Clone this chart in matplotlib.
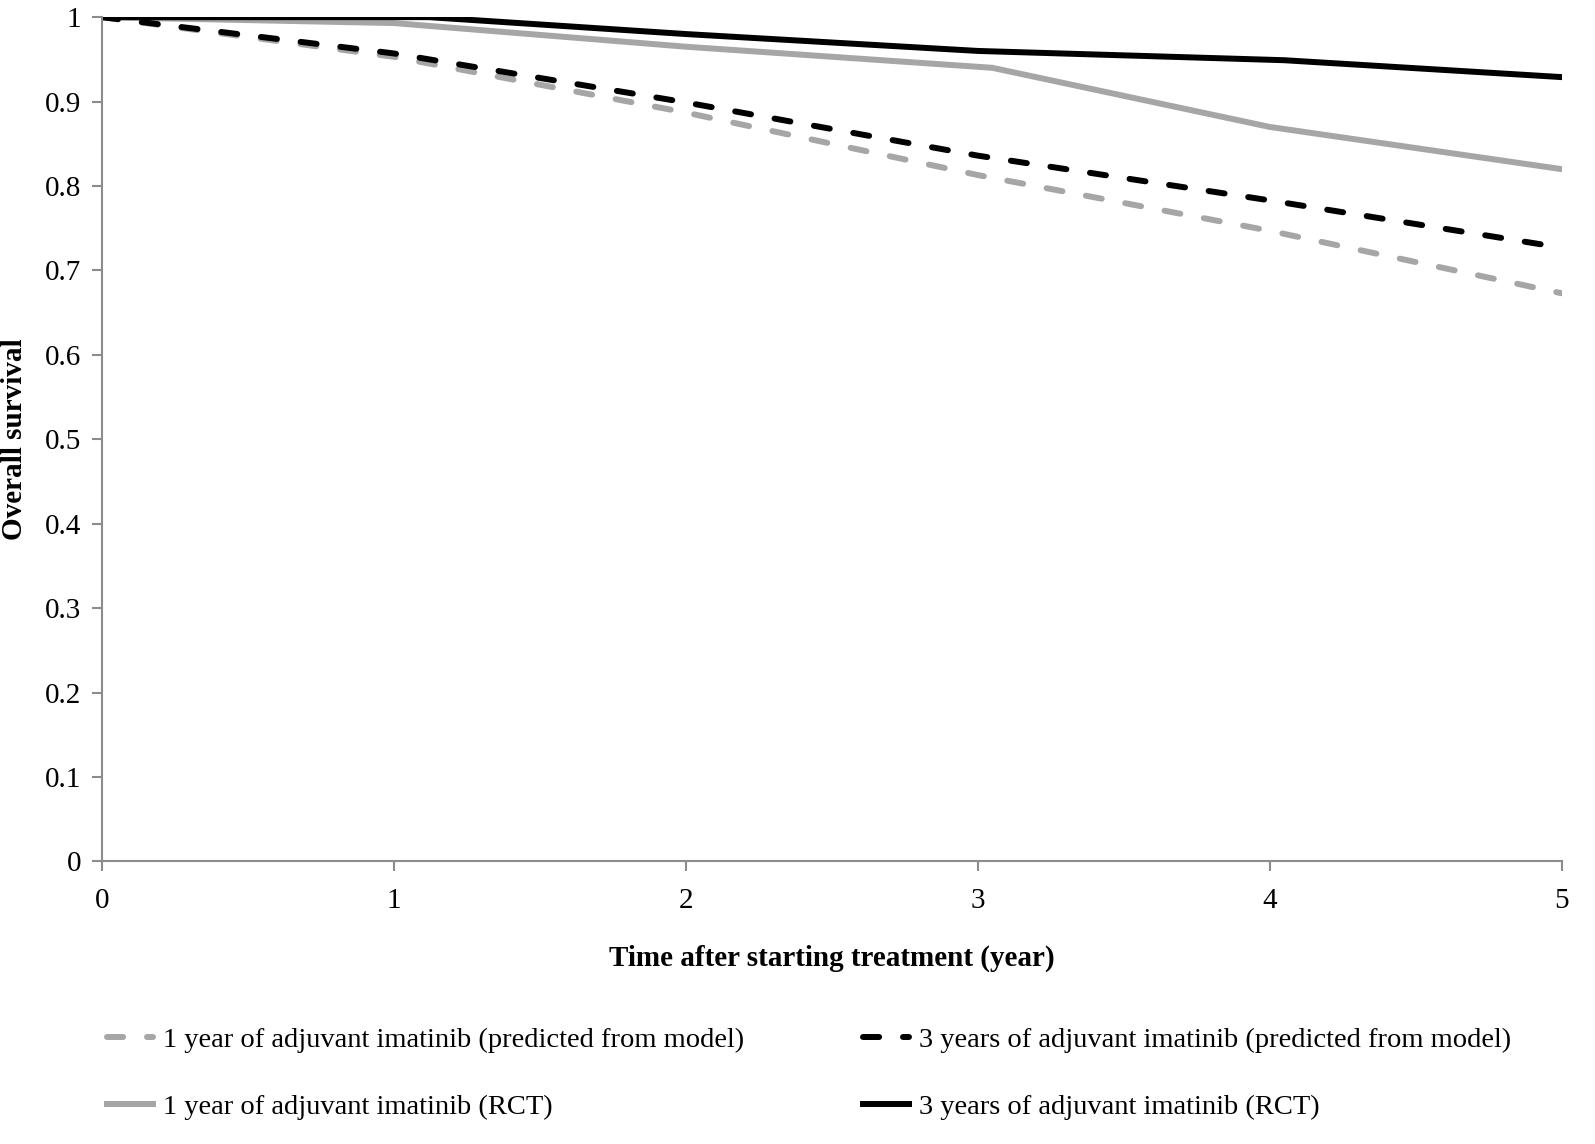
import matplotlib.pyplot as plt
from matplotlib.ticker import FuncFormatter

plt.rcParams['font.family'] = ['Liberation Serif', 'DejaVu Serif']

# years after starting treatment
years = [0, 1, 2, 3, 4, 5]
pred_1yr = [1.0, 0.953, 0.887, 0.813, 0.747, 0.673]
pred_3yr = [1.0, 0.957, 0.899, 0.836, 0.783, 0.727]

rct_1yr_x = [0, 1, 2, 3.05, 4, 5]
rct_1yr = [1.0, 0.993, 0.965, 0.94, 0.87, 0.82]
rct_3yr_x = [0, 1, 1.12, 2, 3, 4.05, 5]
rct_3yr = [1.0, 1.0, 1.0, 0.98, 0.96, 0.949, 0.929]

labels = ["1 year of adjuvant imatinib (predicted from model)",
          "1 year of adjuvant imatinib (RCT)",
          "3 years of adjuvant imatinib (predicted from model)",
          "3 years of adjuvant imatinib (RCT)"]

gray = '#a6a6a6'
fig = plt.figure(figsize=(15.95, 11.44), dpi=100)
ax = fig.add_axes([0.064, 0.247, 0.915, 0.738])

dash = (2.7, 4.0)
h1, = ax.plot(years, pred_1yr, color=gray, lw=4.3, ls=(0, dash), dash_capstyle='round')
h2, = ax.plot(rct_1yr_x, rct_1yr, color=gray, lw=4.3)
h3, = ax.plot(years, pred_3yr, color='black', lw=4.3, ls=(0, dash), dash_capstyle='round')
h4, = ax.plot(rct_3yr_x, rct_3yr, color='black', lw=4.3)

ax.set_xlim(0, 5)
ax.set_ylim(0, 1)
ax.set_xticks(range(6))
ax.set_yticks([i / 10 for i in range(11)])
ax.yaxis.set_major_formatter(FuncFormatter(lambda v, p: f"{v:g}"))
for s in ['top', 'right']:
    ax.spines[s].set_visible(False)
for s in ['left', 'bottom']:
    ax.spines[s].set_color('#8c8c8c')
    ax.spines[s].set_linewidth(1.5)
ax.tick_params(colors='#8c8c8c', width=1.5, length=7, labelcolor='black', labelsize=21)
ax.tick_params(axis='x', pad=12)
ax.tick_params(axis='y', pad=8)

ax.set_xlabel("Time after starting treatment (year)", fontsize=21, fontweight='bold', labelpad=22)
ax.set_ylabel("Overall survival", fontsize=21, fontweight='bold')
ax.yaxis.set_label_coords(-0.051, 0.5)

fig.legend([h1, h2, h3, h4], labels, ncol=2, loc='upper left',
           bbox_to_anchor=(0.06, 0.112), frameon=False, fontsize=20.5,
           handlelength=1.6, handletextpad=0.35, columnspacing=4.2,
           labelspacing=1.45, borderaxespad=0)

fig.savefig('out.png', dpi=100)
